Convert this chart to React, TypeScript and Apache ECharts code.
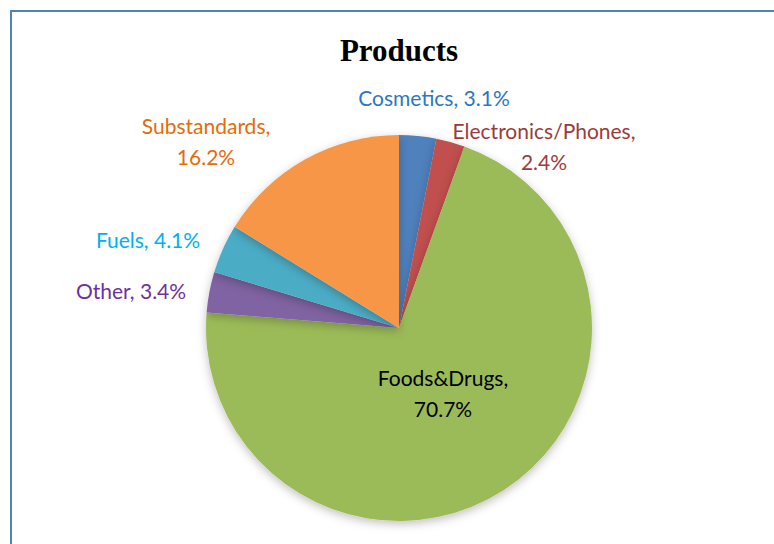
import React, { useEffect, useRef } from "react";
import * as echarts from "echarts";

const categories = ["Cosmetics", "Electronics/Phones", "Foods&Drugs", "Other", "Fuels", "Substandards"];
const values = [3.1, 2.4, 70.7, 3.4, 4.1, 16.2];
const labelTexts = ["Cosmetics, 3.1%", "Electronics/Phones,\n2.4%", "Foods&Drugs,\n70.7%", "Other, 3.4%", "Fuels, 4.1%", "Substandards,\n16.2%"];
const sliceColors = ["#4F81BD", "#C0504D", "#9BBB59", "#8064A2", "#4BACC6", "#F79646"];
const labelColors = ["#2A78C2", "#9C3C3A", "#000000", "#7030A0", "#00B0F0", "#E46C0A"];
const labelPos = [
  [434, 97],
  [544, 146],
  [443, 393],
  [131, 290],
  [148, 239],
  [206, 141],
];

export default function App() {
  const ref = useRef<HTMLDivElement>(null);
  useEffect(() => {
    if (!ref.current) return;
    const chart = echarts.init(ref.current, undefined, { renderer: "svg" });
    chart.setOption({
      animation: false,
      backgroundColor: "#ffffff",
      title: {
        text: "Products",
        left: 394,
        textAlign: "center",
        top: 30,
        textStyle: {
          fontFamily: "Liberation Serif",
          fontWeight: "bold",
          fontSize: 31,
          color: "#000",
        },
      },
      graphic: [
        {
          type: "rect",
          shape: { x: 11, y: 11, width: 800, height: 600 },
          style: { fill: "none", stroke: "#4F81BD", lineWidth: 2 },
          silent: true,
        },
      ],
      series: [
        {
          type: "pie",
          center: [399, 328],
          radius: 193,
          startAngle: 90,
          clockwise: true,
          avoidLabelOverlap: false,
          itemStyle: {
            shadowBlur: 10,
            shadowColor: "rgba(0,0,0,0.25)",
            shadowOffsetY: 3,
          },
          label: {
            show: true,
            position: "outside",
            fontFamily: "Lato",
            fontSize: 21,
            lineHeight: 31,
            align: "center",
            formatter: (p: any) => labelTexts[p.dataIndex],
          },
          labelLine: { show: false },
          labelLayout: (p: any) => ({
            x: labelPos[p.dataIndex][0],
            y: labelPos[p.dataIndex][1],
            align: "center",
            verticalAlign: "middle",
          }),
          emphasis: { disabled: true },
          data: categories.map((c, i) => ({
            name: c,
            value: values[i],
            itemStyle: { color: sliceColors[i] },
            label: { color: labelColors[i] },
          })),
        },
      ],
    });
    return () => chart.dispose();
  }, []);
  return (
    <div
      ref={ref}
      style={{ position: "fixed", left: 0, top: 0, width: 774, height: 544 }}
    />
  );
}
